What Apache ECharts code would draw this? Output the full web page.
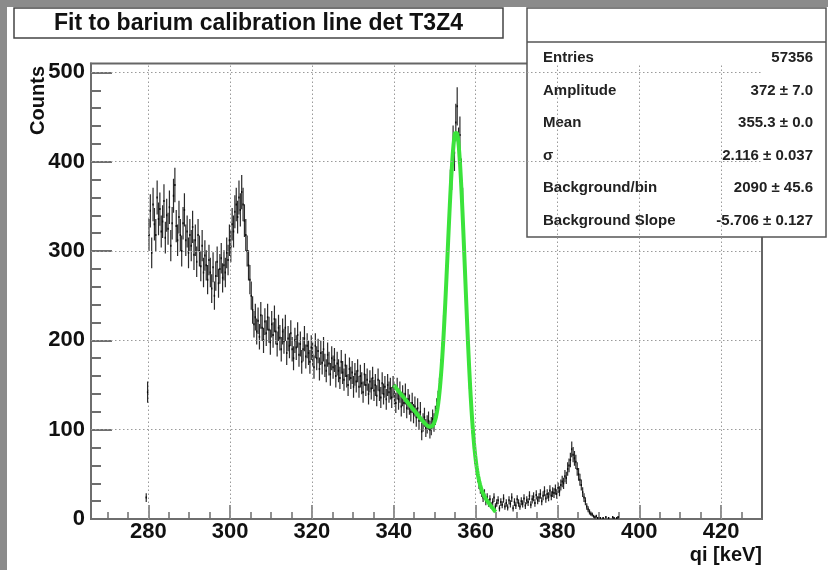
<!DOCTYPE html>
<html>
<head>
<meta charset="utf-8">
<title>Fit to barium calibration line det T3Z4</title>
<script src="https://cdn.jsdelivr.net/npm/echarts@6/dist/echarts.min.js"></script>
<style>
  html, body { margin: 0; padding: 0; background: #8b8b8b; }
  #paper { position: absolute; left: 7px; top: 7px; right: 0; bottom: 0; background: #ffffff; }
  #chart { position: absolute; left: 0; top: 0; width: 828px; height: 570px; }
</style>
</head>
<body>
<div id="paper"></div>
<div id="chart"></div>
<script>
// Histogram: counts per 1/3 keV bin, first bin centred at 279.5 keV (12 bins = 4 keV per row)
const binWidth = 1 / 3;
const binStart = 279.5;
const counts = [
  24, 142, 318, 345, 298, 352, 330, 318, 360, 336, 347, 322,
  333, 356, 315, 340, 325, 349, 306, 331, 362, 374, 328, 312,
  338, 318, 300, 331, 346, 312, 322, 298, 318, 306, 327, 296,
  312, 288, 318, 300, 283, 306, 276, 295, 284, 268, 290, 276,
  258, 282, 250, 272, 288, 264, 280, 292, 270, 284, 276, 298,
  290, 312, 305, 330, 322, 344, 352, 338, 360, 346, 366, 352,
  334, 318, 300, 284, 268, 250, 234, 218, 226, 210, 222, 204,
  228, 214, 200, 221, 208, 226, 212, 198, 218, 206, 224, 210,
  196, 214, 203, 190, 210, 199, 214, 186, 202, 194, 208, 190,
  180, 200, 192, 206, 184, 196, 176, 190, 202, 182, 194, 186,
  176, 192, 184, 170, 194, 180, 188, 168, 186, 175, 190, 172,
  166, 184, 174, 162, 180, 170, 178, 160, 174, 166, 158, 176,
  164, 156, 172, 160, 150, 168, 158, 164, 148, 162, 154, 166,
  148, 160, 152, 142, 162, 150, 156, 140, 154, 146, 158, 144,
  150, 138, 156, 144, 136, 152, 140, 148, 134, 150, 142, 146,
  136, 148, 140, 130, 146, 134, 142, 126, 138, 130, 140, 124,
  134, 128, 120, 130, 118, 126, 114, 124, 110, 120, 98, 108,
  114, 102, 106, 110, 100, 104, 112, 108, 116, 124, 132, 146,
  166, 184, 214, 240, 262, 302, 330, 372, 388, 420, 410, 444,
  462, 418, 430, 384, 352, 300, 274, 222, 200, 158, 138, 106,
  88, 70, 60, 48, 40, 34, 30, 24, 28, 20, 24, 18,
  22, 15, 19, 24, 14, 18, 21, 12, 19, 16, 23, 14,
  18, 13, 21, 17, 24, 12, 19, 15, 22, 18, 14, 20,
  17, 23, 15, 21, 19, 26, 16, 22, 25, 18, 27, 21,
  24, 28, 20, 26, 31, 23, 28, 25, 32, 26, 30, 29,
  33, 28, 35, 31, 38, 42, 40, 48, 46, 56, 60, 66,
  78, 72, 68, 64, 56, 50, 44, 38, 30, 24, 20, 14,
  11, 8, 6, 5, 3, 2, 3, 1, 0, 1, 0, 1,
  0, 2, 0, 1, 0, 0, 2, 1, 0, 1, 2, 0
];

// Axis ranges and tick positions
const xRange = [266, 430];
const yRange = [0, 510];
const xMajorTicks = [280, 300, 320, 340, 360, 380, 400, 420];
const xMinorTicks = [270, 275, 280, 285, 290, 295, 300, 305, 310, 315, 320, 325, 330, 335, 340, 345, 350, 355, 360, 365, 370, 375, 380, 385, 390, 395, 400, 405, 410, 415, 420, 425];
const yMajorTicks = [0, 100, 200, 300, 400, 500];
const yMinorTicks = [20, 40, 60, 80, 120, 140, 160, 180, 220, 240, 260, 280, 320, 340, 360, 380, 420, 440, 460, 480];

// Gaussian + linear background fit result
const fitRange = [340, 365];
const fitAmplitude = 372;
const fitMean = 355.3;
const fitSigma = 2.116;
const fitBackground = 2090;
const fitSlope = -5.706;

// Statistics box
const statLabels = ['Entries', 'Amplitude', 'Mean', '\u03c3', 'Background/bin', 'Background Slope'];
const statValues = ['57356', '372 \u00b1 7.0', '355.3 \u00b1 0.0', '2.116 \u00b1 0.037', '2090 \u00b1 45.6', '-5.706 \u00b1 0.127'];

const FONT = '"Liberation Sans", Arial, Helvetica, sans-serif';

const histData = [];
counts.forEach(function (n, i) {
  if (n > 0) histData.push([binStart + i * binWidth, n, Math.sqrt(n)]);
});

function fitFunction(x) {
  const d = x - fitMean;
  return fitBackground + fitSlope * x + fitAmplitude * Math.exp(-d * d / (2 * fitSigma * fitSigma));
}
const fitData = [];
for (let k = 0; k <= 250; k++) {
  const x = fitRange[0] + (fitRange[1] - fitRange[0]) * k / 250;
  fitData.push([x, fitFunction(x)]);
}

const chart = echarts.init(document.getElementById('chart'), null, { renderer: 'canvas' });

const axisGray = '#6e6e6e';
const labelStyle = { fontFamily: FONT, fontWeight: 'bold', fontSize: 22, color: '#111' };

// Stats box graphic elements
const statBox = { left: 527, top: 8, width: 299, height: 229 };
const statChildren = [
  { type: 'rect', shape: { x: statBox.left, y: statBox.top, width: statBox.width, height: statBox.height },
    style: { fill: '#fff', stroke: '#555', lineWidth: 1.5 } },
  { type: 'line', shape: { x1: statBox.left, y1: 42, x2: statBox.left + statBox.width, y2: 42 },
    style: { stroke: '#555', lineWidth: 1.5 } }
];
statLabels.forEach(function (lab, i) {
  const y = 58 + i * 32.5;
  statChildren.push({ type: 'text', x: 543, y: y,
    style: { text: lab, font: 'bold 15px ' + FONT, fill: '#222', align: 'left', verticalAlign: 'middle' } });
  statChildren.push({ type: 'text', x: 813, y: y,
    style: { text: statValues[i], font: 'bold 15px ' + FONT, fill: '#222', align: 'right', verticalAlign: 'middle' } });
});

chart.setOption({
  animation: false,
  backgroundColor: 'transparent',
  grid: {
    left: 91, right: 66, top: 63.5, bottom: 51,
    show: true, borderColor: '#666', borderWidth: 2,
    outerBoundsMode: 'none'
  },
  xAxis: [
    {
      type: 'value', min: xRange[0], max: xRange[1], position: 'bottom',
      axisLine: { show: true, onZero: false, lineStyle: { color: axisGray, width: 2 } },
      axisTick: { show: true, inside: true, length: 14, customValues: xMajorTicks, lineStyle: { color: axisGray, width: 1.5 } },
      axisLabel: Object.assign({ show: true, margin: 2, customValues: xMajorTicks }, labelStyle),
      splitLine: { show: false }
    },
    {
      type: 'value', min: xRange[0], max: xRange[1], position: 'bottom',
      axisLine: { show: false, onZero: false },
      axisTick: { show: true, inside: true, length: 7, customValues: xMinorTicks, lineStyle: { color: axisGray, width: 1.5 } },
      axisLabel: { show: false },
      splitLine: { show: false }
    }
  ],
  yAxis: [
    {
      type: 'value', min: yRange[0], max: yRange[1], position: 'left',
      axisLine: { show: true, onZero: false, lineStyle: { color: axisGray, width: 2 } },
      axisTick: { show: true, inside: true, length: 21, customValues: yMajorTicks, lineStyle: { color: axisGray, width: 2 } },
      axisLabel: Object.assign({ show: true, margin: 6, customValues: yMajorTicks }, labelStyle),
      splitLine: { show: false }
    },
    {
      type: 'value', min: yRange[0], max: yRange[1], position: 'left',
      axisLine: { show: false, onZero: false },
      axisTick: { show: true, inside: true, length: 10, customValues: yMinorTicks, lineStyle: { color: axisGray, width: 2 } },
      axisLabel: { show: false },
      splitLine: { show: false }
    }
  ],
  series: [
    {
      // dotted grid at the major tick positions
      type: 'line', name: 'grid', data: [], z: 1, silent: true,
      markLine: {
        silent: true, symbol: ['none', 'none'], animation: false,
        label: { show: false },
        lineStyle: { color: '#9a9a9a', width: 1, type: [1.5, 2.5] },
        data: xMajorTicks.map(function (v) { return { xAxis: v }; })
          .concat(yMajorTicks.filter(function (v) { return v > 0; }).map(function (v) { return { yAxis: v }; }))
      }
    },
    {
      type: 'custom', name: 'qi', z: 3, clip: true,
      data: histData,
      encode: { x: 0, y: 1 },
      renderItem: function (params, api) {
        const x = api.value(0), y = api.value(1), e = api.value(2);
        const c = api.coord([x, y]);
        const top = api.coord([x, y + e]);
        const bot = api.coord([x, Math.max(y - e, 0)]);
        const l = api.coord([x - binWidth / 2, y]);
        const r = api.coord([x + binWidth / 2, y]);
        return {
          type: 'group',
          children: [
            { type: 'line', shape: { x1: c[0], y1: top[1], x2: c[0], y2: bot[1] }, style: { stroke: '#2a2a2a', lineWidth: 1.2 } },
            { type: 'line', shape: { x1: l[0], y1: c[1], x2: r[0], y2: c[1] }, style: { stroke: '#0a0a0a', lineWidth: 2 } }
          ]
        };
      }
    },
    {
      type: 'line', name: 'fit', z: 4, data: fitData,
      showSymbol: false, symbol: 'none', smooth: false,
      lineStyle: { color: '#3be33b', width: 4 }
    }
  ],
  graphic: [
    { type: 'rect', shape: { x: 14, y: 8, width: 489, height: 30 },
      style: { fill: '#fff', stroke: '#444', lineWidth: 1.5 } },
    { type: 'text', x: 258.5, y: 23.5,
      style: { text: 'Fit to barium calibration line det T3Z4', font: 'bold 23px ' + FONT, fill: '#111', align: 'center', verticalAlign: 'middle' } },
    { type: 'text', x: 38, y: 66, rotation: Math.PI / 2,
      style: { text: 'Counts', font: 'bold 20px ' + FONT, fill: '#111', align: 'right', verticalAlign: 'middle' } },
    { type: 'text', x: 762, y: 555,
      style: { text: 'qi [keV]', font: 'bold 20px ' + FONT, fill: '#111', align: 'right', verticalAlign: 'middle' } },
    { type: 'group', children: statChildren }
  ]
});
</script>
</body>
</html>
